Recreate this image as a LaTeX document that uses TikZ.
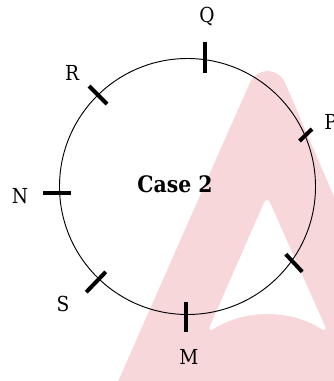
\documentclass[tikz,border=0pt]{standalone}
\usepackage{fontspec}
\setmainfont{DejaVu Serif Condensed}
\definecolor{wmpink}{RGB}{248,215,219}
\begin{document}
\begin{tikzpicture}[x=0.75pt,y=-0.75pt,
  tickmark/.style={line width=3pt},
  ptlabel/.style={font=\fontsize{15.5}{18}\selectfont, inner sep=0pt},
  casetext/.style={font=\fontsize{17}{20}\selectfont\bfseries, inner sep=0pt}]
\useasboundingbox (0,0) rectangle (334,381);

% watermark in the back
\begin{scope}
\clip (0,0) rectangle (334,381);
\fill[wmpink, rounded corners=9pt] (101,420) -- (255,71) -- (280,71) -- (430,420) -- cycle;
\fill[white, rounded corners=6pt] (267,196) -- (207,333)
  .. controls (245,309) and (290,309) .. (328,333) -- cycle;
\end{scope}

% circle
\coordinate (O) at (187.5,186.5);
\draw[line width=0.7pt] (O) circle[radius=128];

% tick marks
\coordinate (Qa) at (205,42);    \coordinate (Qb) at (205,73);
\coordinate (Pa) at (299.5,141); \coordinate (Pb) at (312,129);
\coordinate (Ua) at (285.8,254.2); \coordinate (Ub) at (302.2,271.8);
\coordinate (Ma) at (186,302);   \coordinate (Mb) at (186,332);
\coordinate (Sa) at (86.3,292.1); \coordinate (Sb) at (105.7,271.9);
\coordinate (Na) at (43,193);    \coordinate (Nb) at (71,193);
\coordinate (Ra) at (89,86);     \coordinate (Rb) at (107,104);
\draw[tickmark] (Qa) -- (Qb);
\draw[tickmark] (Pa) -- (Pb);
\draw[tickmark] (Ua) -- (Ub);
\draw[tickmark] (Ma) -- (Mb);
\draw[tickmark] (Sa) -- (Sb);
\draw[tickmark] (Na) -- (Nb);
\draw[tickmark] (Ra) -- (Rb);

% labels
\node[ptlabel] (Q) at (207,16) {Q};
\node[ptlabel, anchor=west] (P) at (324,122) {P};
\node[ptlabel] (M) at (189,357) {M};
\node[ptlabel] (S) at (63,304) {S};
\node[ptlabel] (N) at (20,196) {N};
\node[ptlabel] (R) at (72,73) {R};
\node[casetext] (case) at (175,184) {Case 2};
\end{tikzpicture}
\end{document}
